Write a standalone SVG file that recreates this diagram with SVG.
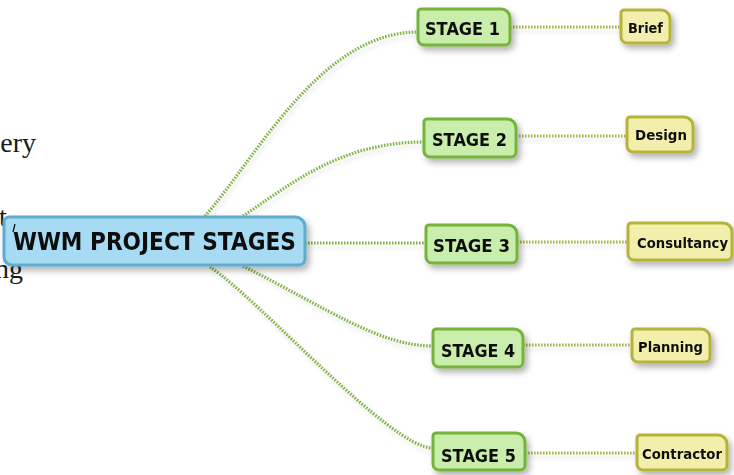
<svg xmlns="http://www.w3.org/2000/svg" width="734" height="475" viewBox="0 0 734 475">
<defs>
<filter id="sh" x="-20%" y="-30%" width="140%" height="180%">
<feDropShadow dx="3" dy="4" stdDeviation="3" flood-color="#000" flood-opacity="0.3"/>
</filter>
<filter id="lsh" x="-10%" y="-10%" width="120%" height="130%">
<feDropShadow dx="2" dy="4" stdDeviation="2" flood-color="#000" flood-opacity="0.12"/>
</filter>
</defs>
<style>
.bg{font-family:"Liberation Serif","DejaVu Serif",serif;font-size:28px;fill:#1a1a1a}
.main{fill:none;stroke:#80b246;stroke-width:3.2;stroke-dasharray:1.6 1.4}
.sub{fill:none;stroke:#acb446;stroke-width:3.2;stroke-dasharray:1.6 1.4}
.root{fill:#a7dbf4;stroke:#5eaccd;stroke-width:3}
.stage{fill:#c9eeab;stroke:#76b33a;stroke-width:3}
.leaf{fill:#f1efab;stroke:#b5b338;stroke-width:3}
.t{font-family:"DejaVu Sans","Liberation Sans",sans-serif;font-weight:bold;fill:#111}
</style>
<rect width="734" height="475" fill="#fff"/>
<g id="background-text">
<text class="bg" x="36" y="152" text-anchor="end">ery</text>
<text class="bg" x="-1" y="226">t</text>
<text class="bg" x="23" y="278" text-anchor="end">ng</text>
</g>
<g id="connectors" filter="url(#lsh)">
<path class="main" d="M205,216 C255,160 320,32 418,32"/>
<path class="main" d="M243,216 C290,185 340,142 424,142"/>
<path class="main" d="M305,243 H426"/>
<path class="main" d="M243,266 C330,310 380,346 433,346"/>
<path class="main" d="M210,267 C260,300 390,448 433,448"/>
<path class="sub" d="M510,27 H621"/>
<path class="sub" d="M516,136 H627"/>
<path class="sub" d="M517,242 H628"/>
<path class="sub" d="M523,345 H632"/>
<path class="sub" d="M525,453 H637"/>
</g>
<g id="root" filter="url(#sh)">
<path class="root" d="M9,217 H295 A10,10 0 0 1 305,227 V259 A6,6 0 0 1 299,265 H12 A8,8 0 0 1 4,257 V222 A5,5 0 0 1 9,217 Z"/>
<text class="t" x="13" y="250" font-size="24.5" textLength="283" lengthAdjust="spacingAndGlyphs">WWM PROJECT STAGES</text>
<path d="M15,224 L13,232" stroke="#111" stroke-width="1.3" fill="none"/>
</g>
<g id="stage1" filter="url(#sh)">
<path class="stage" d="M421,9 H501 A9,9 0 0 1 510,18 V40 A5,5 0 0 1 505,45 H424 A6,6 0 0 1 418,39 V12 A3,3 0 0 1 421,9 Z"/>
<text class="t" x="425" y="35" font-size="17" textLength="75" lengthAdjust="spacingAndGlyphs">STAGE 1</text>
</g>
<g id="stage2" filter="url(#sh)">
<path class="stage" d="M427,119 H507 A9,9 0 0 1 516,128 V152 A5,5 0 0 1 511,157 H430 A6,6 0 0 1 424,151 V122 A3,3 0 0 1 427,119 Z"/>
<text class="t" x="432" y="146" font-size="17" textLength="75" lengthAdjust="spacingAndGlyphs">STAGE 2</text>
</g>
<g id="stage3" filter="url(#sh)">
<path class="stage" d="M429,225 H508 A9,9 0 0 1 517,234 V258 A5,5 0 0 1 512,263 H432 A6,6 0 0 1 426,257 V228 A3,3 0 0 1 429,225 Z"/>
<text class="t" x="433" y="252" font-size="17" textLength="77" lengthAdjust="spacingAndGlyphs">STAGE 3</text>
</g>
<g id="stage4" filter="url(#sh)">
<path class="stage" d="M436,329 H514 A9,9 0 0 1 523,338 V362 A5,5 0 0 1 518,367 H439 A6,6 0 0 1 433,361 V332 A3,3 0 0 1 436,329 Z"/>
<text class="t" x="441" y="357" font-size="17" textLength="74" lengthAdjust="spacingAndGlyphs">STAGE 4</text>
</g>
<g id="stage5" filter="url(#sh)">
<path class="stage" d="M436,433 H516 A9,9 0 0 1 525,442 V465 A5,5 0 0 1 520,470 H439 A6,6 0 0 1 433,464 V436 A3,3 0 0 1 436,433 Z"/>
<text class="t" x="441" y="462" font-size="17" textLength="75" lengthAdjust="spacingAndGlyphs">STAGE 5</text>
</g>
<g id="brief" filter="url(#sh)">
<path class="leaf" d="M624,10 H661 A9,9 0 0 1 670,19 V38 A5,5 0 0 1 665,43 H627 A6,6 0 0 1 621,37 V13 A3,3 0 0 1 624,10 Z"/>
<text class="t" x="628" y="33" font-size="14.5" textLength="35" lengthAdjust="spacingAndGlyphs">Brief</text>
</g>
<g id="design" filter="url(#sh)">
<path class="leaf" d="M630,117 H684 A9,9 0 0 1 693,126 V147 A5,5 0 0 1 688,152 H633 A6,6 0 0 1 627,146 V120 A3,3 0 0 1 630,117 Z"/>
<text class="t" x="635" y="140" font-size="14.5" textLength="52" lengthAdjust="spacingAndGlyphs">Design</text>
</g>
<g id="consultancy" filter="url(#sh)">
<path class="leaf" d="M631,223 H723 A9,9 0 0 1 732,232 V255 A5,5 0 0 1 727,260 H634 A6,6 0 0 1 628,254 V226 A3,3 0 0 1 631,223 Z"/>
<text class="t" x="637" y="248" font-size="14.5" textLength="91" lengthAdjust="spacingAndGlyphs">Consultancy</text>
</g>
<g id="planning" filter="url(#sh)">
<path class="leaf" d="M635,329 H701 A9,9 0 0 1 710,338 V357 A5,5 0 0 1 705,362 H638 A6,6 0 0 1 632,356 V332 A3,3 0 0 1 635,329 Z"/>
<text class="t" x="638" y="352" font-size="14.5" textLength="65" lengthAdjust="spacingAndGlyphs">Planning</text>
</g>
<g id="contractor" filter="url(#sh)">
<path class="leaf" d="M640,435 H718 A9,9 0 0 1 727,444 V465 A5,5 0 0 1 722,470 H643 A6,6 0 0 1 637,464 V438 A3,3 0 0 1 640,435 Z"/>
<text class="t" x="642" y="459" font-size="14.5" textLength="80" lengthAdjust="spacingAndGlyphs">Contractor</text>
</g>
</svg>
